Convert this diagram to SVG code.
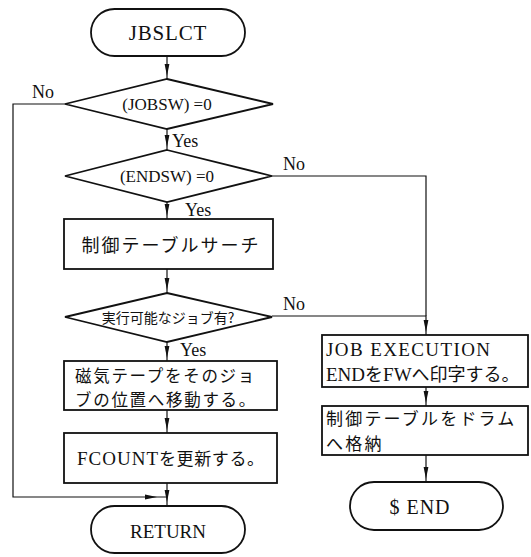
<svg xmlns="http://www.w3.org/2000/svg" width="531" height="557" viewBox="0 0 531 557">
  <style>
    .shape { fill: #ffffff; stroke: #111111; stroke-width: 1.8; }
    .wire { fill: none; stroke: #111111; stroke-width: 1.2; }
    .lat { font-family: 'Liberation Serif', 'DejaVu Serif', serif; fill: #111111; }
    .jp { font-family: 'Noto Sans CJK JP', sans-serif; fill: #111111; }
    .mid { text-anchor: middle; dominant-baseline: central; }
  </style>
  <defs>
    <marker id="arrow" markerUnits="userSpaceOnUse" markerWidth="13" markerHeight="6" refX="12" refY="3" orient="auto">
      <path d="M0,0.6 L12,3 L0,5.4 z" fill="#111111"/>
    </marker>
  </defs>

  <!-- connectors: the arrowhead sits on the middle vertex of each path -->
  <g id="connectors" class="wire">
    <path d="M167,56 V76 V79" marker-mid="url(#arrow)"/>
    <path d="M167,129 V147 V150" marker-mid="url(#arrow)"/>
    <path d="M167,202 V216 V219" marker-mid="url(#arrow)"/>
    <path d="M167,269 V290 V293" marker-mid="url(#arrow)"/>
    <path d="M167,342 V358 V361" marker-mid="url(#arrow)"/>
    <path d="M167,410 V430 V433" marker-mid="url(#arrow)"/>
    <path d="M167,483 V502 V506" marker-mid="url(#arrow)"/>
    <!-- No branch of (JOBSW)=0 back to RETURN -->
    <path d="M65,104 H13 V497 H130"/>
    <path d="M130,497 H157 H167" marker-mid="url(#arrow)"/>
    <!-- No branches to the right column -->
    <path d="M272,176 H426 V316"/>
    <path d="M272,316 H426 V320"/>
    <path d="M426,320 V332 V335" marker-mid="url(#arrow)"/>
    <path d="M426,387 V403 V406" marker-mid="url(#arrow)"/>
    <path d="M426,455 V479 V482" marker-mid="url(#arrow)"/>
  </g>

  <g id="labels" class="lat" font-size="18">
    <text x="32" y="98">No</text>
    <text x="172" y="147">Yes</text>
    <text x="283" y="170">No</text>
    <text x="185" y="216">Yes</text>
    <text x="283" y="310">No</text>
    <text x="180" y="356">Yes</text>
  </g>

  <g id="jbslct">
    <rect class="shape" x="91" y="9" width="154" height="47" rx="23.5"/>
    <text class="lat mid" x="168" y="33" font-size="21" letter-spacing="0.8">JBSLCT</text>
  </g>

  <g id="jobsw">
    <polygon class="shape" points="167,79 273,104 167,129 65,104"/>
    <text class="lat mid" x="167" y="104" font-size="17">(JOBSW) =0</text>
  </g>

  <g id="endsw">
    <polygon class="shape" points="167,150 272,176 167,202 65,176"/>
    <text class="lat mid" x="167" y="176" font-size="17">(ENDSW) =0</text>
  </g>

  <g id="search">
    <rect class="shape" x="64" y="219" width="209" height="50"/>
    <text class="jp mid" x="171" y="244" font-size="18" letter-spacing="2">制御テーブルサーチ</text>
  </g>

  <g id="runnable">
    <polygon class="shape" points="167,293 272,317 167,342 65,317"/>
    <text class="jp mid" x="168" y="317" font-size="14">実行可能なジョブ有?</text>
  </g>

  <g id="move-tape">
    <rect class="shape" x="64" y="361" width="213" height="49"/>
    <text class="jp" font-size="16.5" letter-spacing="1.7"><tspan x="75" y="382">磁気テープをそのジョ</tspan><tspan x="75" y="406">ブの位置へ移動する。</tspan></text>
  </g>

  <g id="fcount">
    <rect class="shape" x="64" y="433" width="213" height="50"/>
    <text class="jp" x="77" y="465" font-size="17" letter-spacing="0.6"><tspan class="lat" font-size="19" letter-spacing="1">FCOUNT</tspan>を更新する。</text>
  </g>

  <g id="return">
    <rect class="shape" x="91" y="506" width="154" height="47" rx="23.5"/>
    <text class="lat mid" x="168" y="531" font-size="19">RETURN</text>
  </g>

  <g id="print-end">
    <rect class="shape" x="322" y="335" width="206" height="52"/>
    <text class="jp" font-size="18"><tspan class="lat" x="326" y="356" font-size="19" letter-spacing="1.4">JOB EXECUTION</tspan><tspan x="326" y="381"><tspan class="lat" font-size="19">END</tspan>を<tspan class="lat" font-size="19">FW</tspan>へ印字する。</tspan></text>
  </g>

  <g id="store-table">
    <rect class="shape" x="322" y="406" width="206" height="49"/>
    <text class="jp" font-size="17" letter-spacing="2.2"><tspan x="326" y="425">制御テーブルをドラム</tspan><tspan x="326" y="450">へ格納</tspan></text>
  </g>

  <g id="end">
    <rect class="shape" x="350" y="482" width="153" height="48" rx="24"/>
    <text class="lat mid" x="420" y="507" font-size="20" letter-spacing="1">$ END</text>
  </g>
</svg>
